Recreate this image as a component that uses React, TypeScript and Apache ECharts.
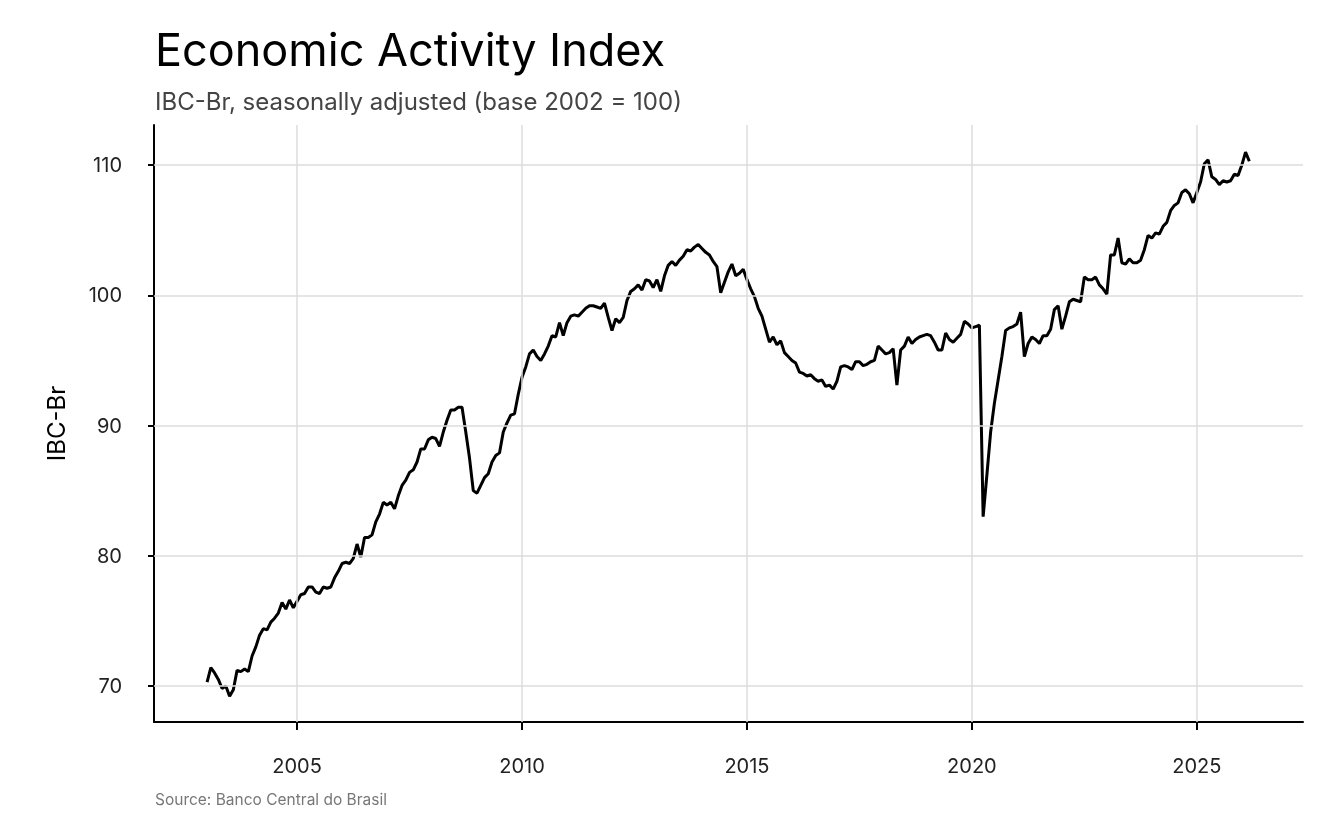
import * as echarts from 'echarts';
import { useEffect, useRef } from 'react';

const startYear = 2003;
const monthly: number[][] = [
  [70.3, 71.4, 71.0, 70.5, 69.8, 70.0, 69.2, 69.7, 71.2, 71.1, 71.3, 71.1],
  [72.3, 73.0, 73.9, 74.4, 74.3, 74.9, 75.2, 75.6, 76.4, 75.9, 76.6, 76.0],
  [76.5, 77.0, 77.1, 77.6, 77.6, 77.2, 77.1, 77.6, 77.5, 77.6, 78.3, 78.8],
  [79.4, 79.5, 79.4, 79.8, 80.9, 79.9, 81.4, 81.4, 81.6, 82.6, 83.2, 84.1],
  [83.9, 84.1, 83.6, 84.6, 85.4, 85.8, 86.4, 86.6, 87.2, 88.2, 88.2, 88.9],
  [89.1, 89.0, 88.4, 89.5, 90.4, 91.2, 91.2, 91.4, 91.4, 89.5, 87.5, 85.0],
  [84.8, 85.4, 86.0, 86.3, 87.2, 87.7, 87.9, 89.5, 90.2, 90.8, 90.9, 92.4],
  [93.7, 94.5, 95.5, 95.8, 95.3, 95.0, 95.5, 96.1, 96.9, 96.8, 97.9, 96.9],
  [97.9, 98.4, 98.5, 98.4, 98.7, 99.0, 99.2, 99.2, 99.1, 99.0, 99.4, 98.3],
  [97.3, 98.2, 97.9, 98.3, 99.6, 100.3, 100.5, 100.8, 100.4, 101.2, 101.1, 100.6],
  [101.2, 100.3, 101.5, 102.3, 102.6, 102.3, 102.7, 103.0, 103.5, 103.4, 103.7, 103.9],
  [103.6, 103.3, 103.1, 102.6, 102.2, 100.2, 101.0, 101.8, 102.4, 101.5, 101.7, 102.0],
  [101.2, 100.5, 99.9, 99.0, 98.4, 97.4, 96.4, 96.8, 96.2, 96.5, 95.6, 95.3],
  [95.0, 94.8, 94.1, 94.0, 93.8, 93.9, 93.6, 93.4, 93.5, 93.0, 93.1, 92.8],
  [93.4, 94.5, 94.6, 94.5, 94.3, 94.9, 94.9, 94.6, 94.7, 94.9, 95.0, 96.1],
  [95.8, 95.5, 95.6, 95.9, 93.1, 95.8, 96.1, 96.8, 96.3, 96.6, 96.8, 96.9],
  [97.0, 96.9, 96.4, 95.8, 95.8, 97.1, 96.6, 96.4, 96.7, 97.0, 98.0, 97.8],
  [97.5, 97.6, 97.7, 83.0, 86.2, 89.5, 91.7, 93.5, 95.3, 97.3, 97.5, 97.6],
  [97.8, 98.7, 95.3, 96.3, 96.8, 96.6, 96.3, 96.9, 96.9, 97.4, 98.9, 99.2],
  [97.4, 98.4, 99.5, 99.7, 99.6, 99.5, 101.4, 101.2, 101.2, 101.4, 100.8, 100.5],
  [100.1, 103.1, 103.1, 104.4, 102.5, 102.4, 102.8, 102.5, 102.5, 102.7, 103.5, 104.6],
  [104.4, 104.8, 104.7, 105.3, 105.6, 106.5, 106.9, 107.1, 107.9, 108.1, 107.8, 107.1],
  [107.9, 108.7, 110.1, 110.4, 109.1, 108.9, 108.5, 108.8, 108.7, 108.8, 109.3, 109.2],
  [110.0, 111.0, 110.3],
];
const xTicks = [2005, 2010, 2015, 2020, 2025];
const yTicks = [70, 80, 90, 100, 110];

const FONT = 'Inter, "Noto Sans", sans-serif';

export default function App() {
  const ref = useRef<HTMLDivElement | null>(null);

  useEffect(() => {
    if (!ref.current) return;
    const chart = echarts.init(ref.current, undefined, { renderer: 'svg' });

    const data: [number, number][] = [];
    monthly.forEach((row, yi) => {
      row.forEach((v, m) => data.push([startYear + yi + m / 12, v]));
    });
    const grid = '#dddddd';

    chart.setOption({
      animation: false,
      textStyle: { fontFamily: FONT },
      title: [
        { text: 'Economic Activity Index', left: 150, top: 22, textStyle: { fontSize: 45, fontWeight: 400, color: '#000', fontFamily: FONT } },
        { text: 'IBC-Br, seasonally adjusted (base 2002 = 100)', left: 150, top: 84, textStyle: { fontSize: 24, fontWeight: 400, color: '#444', fontFamily: FONT } },
        { text: 'Source: Banco Central do Brasil', left: 150, top: 786, textStyle: { fontSize: 15.5, fontWeight: 400, color: '#777', fontFamily: FONT } },
      ],
      grid: { left: 154, right: 41, top: 125, bottom: 108 },
      xAxis: {
        type: 'value',
        min: 2001.82,
        max: 2027.36,
        axisLine: { show: true, onZero: false, lineStyle: { color: '#000', width: 2 } },
        axisTick: { show: true, length: 8, customValues: xTicks, lineStyle: { color: '#000', width: 2 } },
        axisLabel: { customValues: xTicks, formatter: (v: number) => String(v), color: '#222', fontSize: 20, margin: 34, fontFamily: FONT },
        splitLine: { show: false },
      },
      yAxis: {
        type: 'value',
        min: 67.23,
        max: 113.08,
        name: 'IBC-Br',
        nameLocation: 'middle',
        nameGap: 86,
        nameTextStyle: { fontSize: 24, color: '#000', fontFamily: FONT },
        axisLine: { show: true, onZero: false, lineStyle: { color: '#000', width: 2 } },
        axisTick: { show: true, length: 6, customValues: yTicks, lineStyle: { color: '#000', width: 2 } },
        axisLabel: { customValues: yTicks, color: '#222', fontSize: 20, margin: 32, fontFamily: FONT },
        splitLine: { show: false },
      },
      series: [
        {
          type: 'line',
          data: [],
          z: 1,
          silent: true,
          markLine: {
            silent: true,
            symbol: 'none',
            label: { show: false },
            lineStyle: { color: grid, width: 1.5, type: 'solid' },
            data: [...xTicks.map((v) => ({ xAxis: v })), ...yTicks.map((v) => ({ yAxis: v }))],
          },
        },
        {
          type: 'line',
          data,
          z: 3,
          showSymbol: false,
          lineStyle: { color: '#000', width: 3 },
        },
      ],
    });

    return () => chart.dispose();
  }, []);

  return <div ref={ref} style={{ position: 'fixed', left: 0, top: 0, width: 1344, height: 830 }} />;
}
